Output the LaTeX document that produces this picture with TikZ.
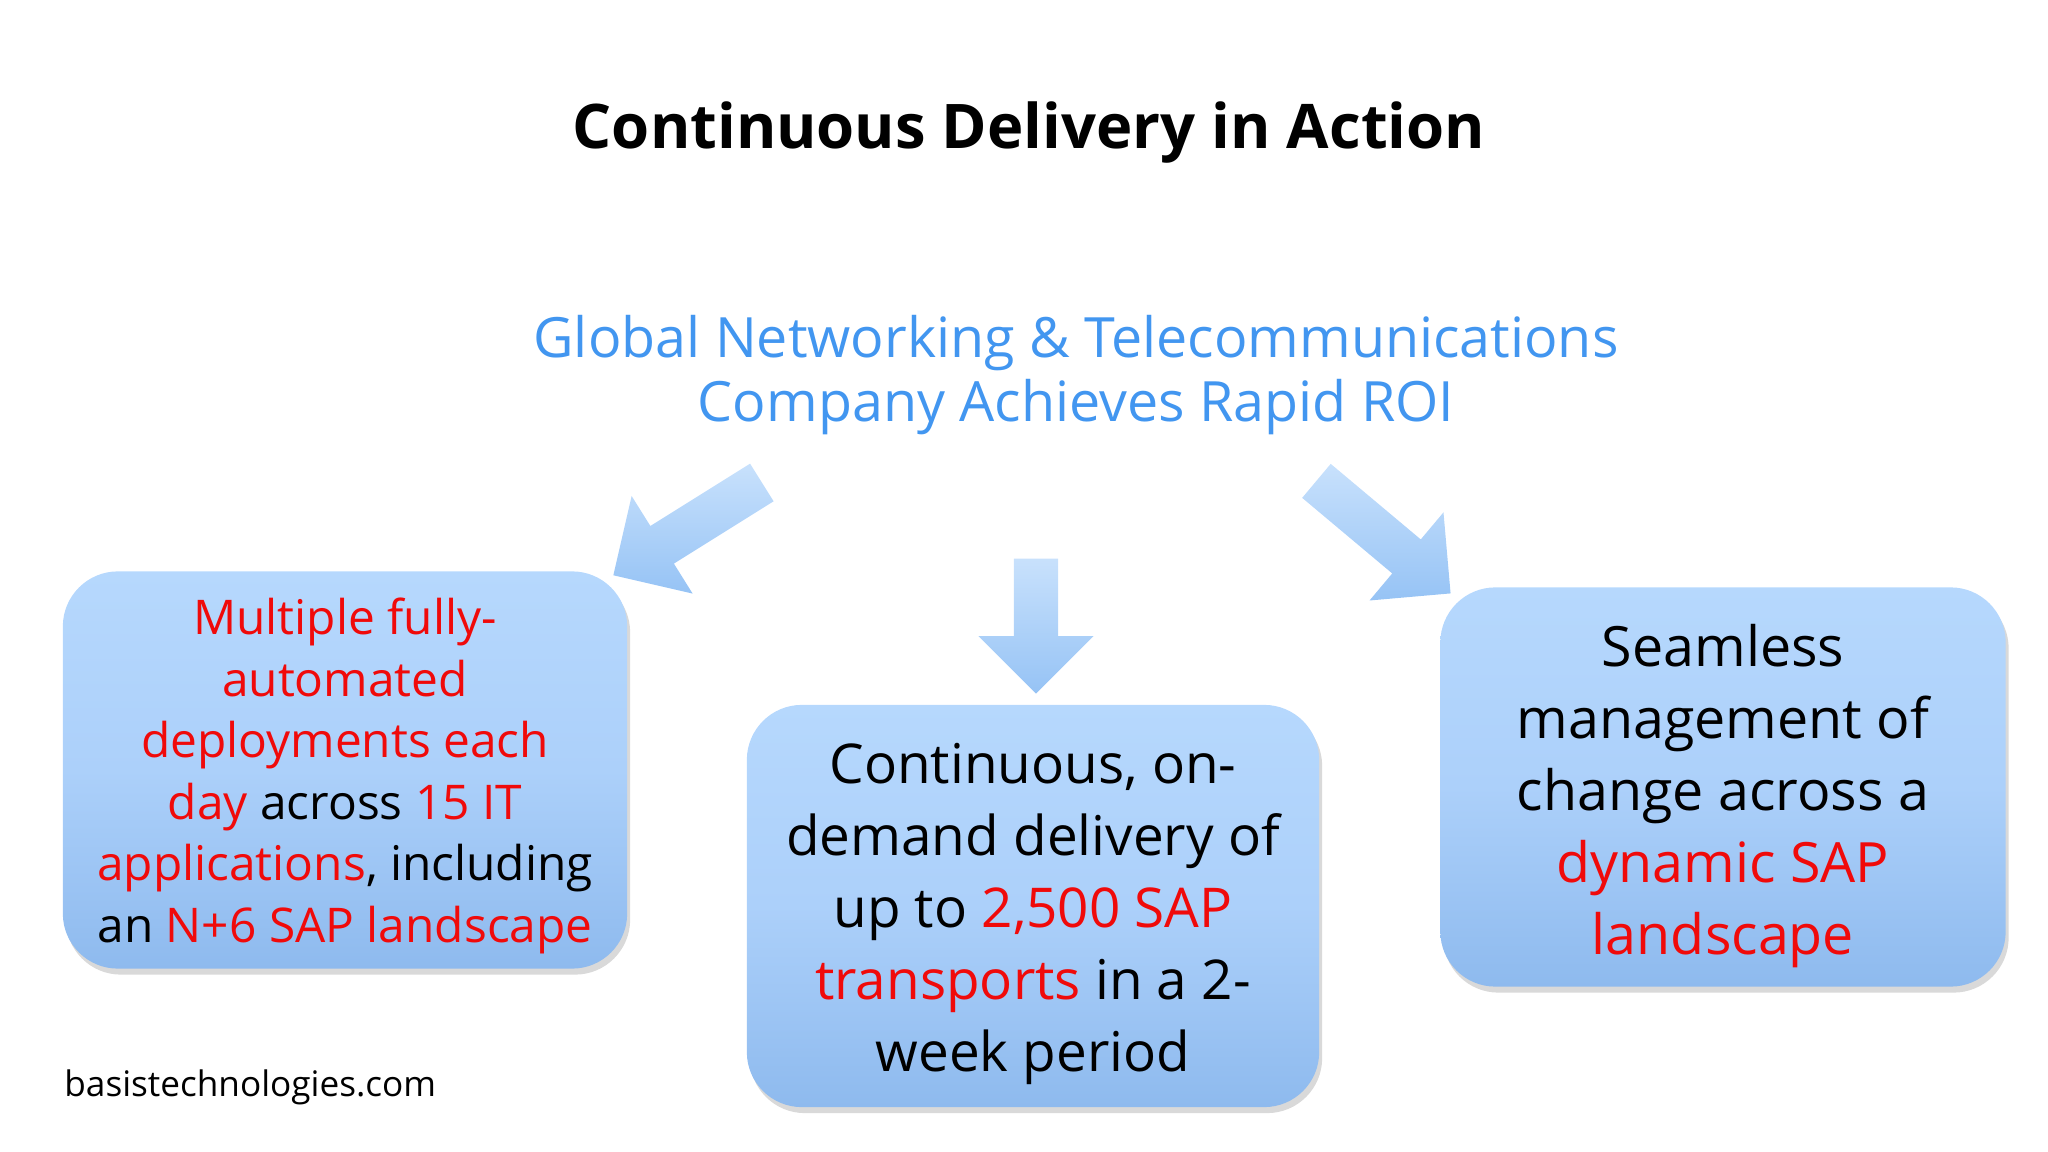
\documentclass[tikz,border=0pt]{standalone}
\usepackage{fontspec}
\setmainfont{Open Sans}
\usetikzlibrary{shapes.arrows,shadows}
\definecolor{subblue}{RGB}{66,150,240}
\definecolor{hired}{RGB}{240,10,10}
\definecolor{boxtop}{RGB}{182,216,253}
\definecolor{boxmid}{RGB}{172,208,250}
\definecolor{boxbot}{RGB}{142,186,238}
\definecolor{arrtop}{RGB}{200,225,252}
\definecolor{arrbot}{RGB}{150,195,245}
\tikzset{
 card/.style={draw=none, rounded corners=0.55cm, top color=boxtop, bottom color=boxbot, middle color=boxmid,
   drop shadow={shadow xshift=0.03cm, shadow yshift=-0.06cm, opacity=0.3}, align=center},
 bigarrow/.style={single arrow, draw=none, top color=arrtop, bottom color=arrbot,
   minimum width=1.15cm, single arrow head extend=0.25cm, minimum height=1.75cm, inner sep=0.15cm},
}
\begin{document}
\begin{tikzpicture}[x=0.01cm,y=-0.01cm]
\useasboundingbox (0,0) rectangle (2048,1152);
\node[font=\fontsize{17.5pt}{20pt}\selectfont\bfseries] (title) at (1029,133) {Continuous Delivery in Action};
\node[text=subblue, align=center, font=\fontsize{15.8pt}{18pt}\selectfont] (sub) at (1076,375) {Global Networking \& Telecommunications\\ Company Achieves Rapid ROI};
\node[card, minimum width=5.64cm, minimum height=3.97cm] (lb) at (345,770) {};
\node[align=center, font=\fontsize{13.6pt}{17.5pt}\selectfont] (lt) at (345,776) {%
 \textcolor{hired}{Multiple fully-}\\ \textcolor{hired}{automated}\\ \textcolor{hired}{deployments each}\\ \textcolor{hired}{day} across \textcolor{hired}{15 IT}\\ \textcolor{hired}{applications}, including\\ an \textcolor{hired}{N+6 SAP landscape}};
\node[card, minimum width=5.72cm, minimum height=4.02cm] (mb) at (1033,906) {};
\node[align=center, font=\fontsize{15.6pt}{20.5pt}\selectfont] (mt) at (1033,914) {%
 Continuous, on-\\ demand delivery of\\ up to \textcolor{hired}{2,500 SAP}\\ \textcolor{hired}{transports} in a 2-\\ week period};
\node[card, minimum width=5.65cm, minimum height=3.99cm] (rb) at (1723,787) {};
\node[align=center, font=\fontsize{15.8pt}{20.5pt}\selectfont] (rt) at (1723,796) {%
 Seamless\\ management of\\ change across a\\ \textcolor{hired}{dynamic SAP}\\ \textcolor{hired}{landscape}};
\node[bigarrow, rotate=212] (la) at (697,523) {};
\node[bigarrow, rotate=270, minimum height=1.35cm] (ma) at (1036,615) {};
\node[bigarrow, rotate=-40] (ra) at (1375,530) {};
\node[anchor=west, font=\fontsize{10pt}{12pt}\selectfont] (foot) at (52,1087) {basistechnologies.com};
\end{tikzpicture}
\end{document}
